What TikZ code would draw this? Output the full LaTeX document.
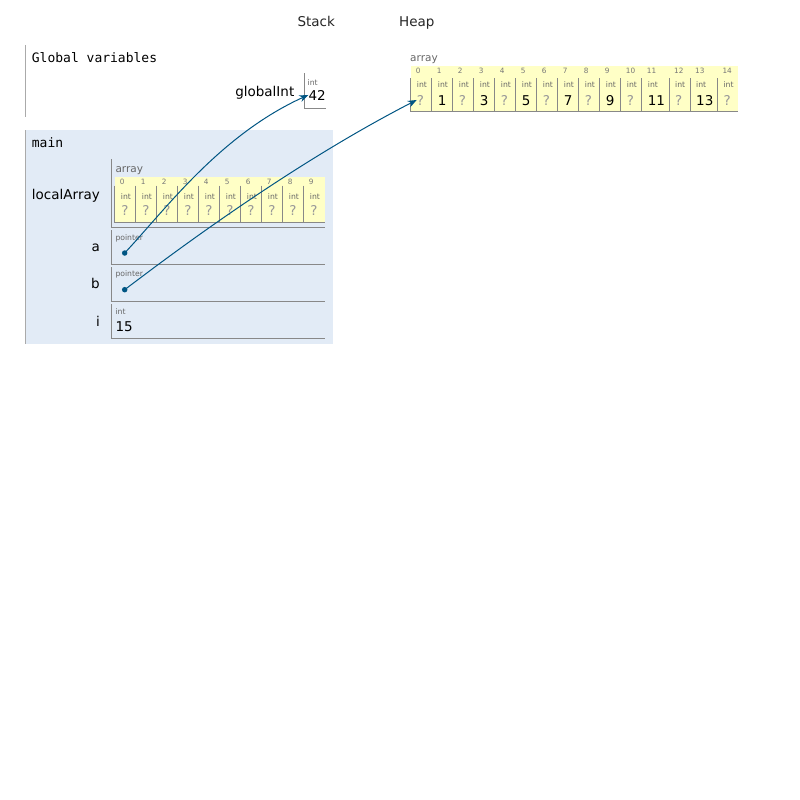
\documentclass[tikz,border=0pt]{standalone}
\usepackage{fontspec}
\setmainfont{DejaVu Sans}
\newfontfamily\codefont{DejaVu Sans Mono}
\usetikzlibrary{arrows.meta}
\definecolor{frameblue}{HTML}{E2EBF6}
\definecolor{heapyellow}{HTML}{FFFFC6}
\definecolor{cellborder}{HTML}{888888}
\definecolor{framegray}{HTML}{AAAAAA}
\definecolor{idxgray}{HTML}{777777}
\definecolor{typegray}{HTML}{666666}
\definecolor{qgray}{HTML}{999999}
\definecolor{ptrblue}{HTML}{005583}
\begin{document}
\begin{tikzpicture}[x=1pt,y=-1pt,
  lbl/.style={font=\fontsize{13.5}{16}\selectfont, inner sep=0pt, anchor=base east},
  hdr/.style={font=\fontsize{13.5}{16}\selectfont, inner sep=0pt, anchor=base west, text=black!85},
  frametitle/.style={font=\codefont\fontsize{13}{16}\selectfont, inner sep=0pt, anchor=base west},
  typelbl/.style={font=\fontsize{7.7}{9}\selectfont, inner sep=0pt, anchor=base west, text=typegray},
  idxlbl/.style={font=\fontsize{7.3}{9}\selectfont, inner sep=0pt, anchor=base west, text=idxgray},
  arrlbl/.style={font=\fontsize{10.5}{12}\selectfont, inner sep=0pt, anchor=base west, text=typegray},
  vallbl/.style={font=\fontsize{13.5}{16}\selectfont, inner sep=0pt, anchor=base west},
  cellline/.style={draw=cellborder, line width=1pt},
  frameline/.style={draw=framegray, line width=1pt},
  ptrdot/.style={circle, fill=ptrblue, inner sep=0pt, minimum size=5.5pt},
  ptrarrow/.style={draw=ptrblue, line width=1pt, -{Stealth[length=9pt,width=7pt]}}
]
\useasboundingbox (0,0) rectangle (800,800);

% column titles
\node[hdr] (stacktitle) at (297.3,26.7) {Stack};
\node[hdr] (heaptitle) at (399,26.7) {Heap};

% global frame
\draw[frameline] (25,45) -- (25,117);
\node[frametitle] (globaltitle) at (31.7,62.7) {Global variables};
\node[lbl] (globalIntlbl) at (294.5,96) {globalInt};
\draw[cellline] (304.3,73) -- (304.3,108) -- (326,108);
\node[typelbl] (gtype) at (307.5,85) {int};
\node[vallbl] (gval) at (308.3,100) {42};

% main frame
\fill[frameblue] (25,130) rectangle (333.3,344);
\draw[frameline] (25,130) -- (25,344);
\node[frametitle] (maintitle) at (31.7,147.7) {main};

% localArray
\node[lbl] (localArraylbl) at (100,199) {localArray};
\draw[cellline] (111.5,159) -- (111.5,227) -- (325,227);
\node[arrlbl] (larrlbl) at (115.3,172.3) {array};
\fill[heapyellow] (114.7,176.7) rectangle (324.7,222.7);
\foreach \i in {0,...,9}{
  \pgfmathsetmacro{\cx}{114.7+21*\i}
  \draw[cellline] (\cx,185.7) -- (\cx,222.7) -- (\cx+21,222.7);
  \node[idxlbl] (li\i) at (\cx+5,184.3) {\i};
  \node[typelbl] (lt\i) at (\cx+6,199.3) {int};
  \node[vallbl, text=qgray] (lv\i) at (\cx+6.5,215) {?};
}

% a
\node[lbl] (albl) at (100,251.7) {a};
\draw[cellline] (111.5,230) -- (111.5,264) -- (325,264);
\node[typelbl] (atype) at (115.3,240.3) {pointer};
\node[ptrdot] (adot) at (124.7,253) {};

% b
\node[lbl] (blbl) at (100,288) {b};
\draw[cellline] (111.5,267) -- (111.5,301) -- (325,301);
\node[typelbl] (btype) at (115.3,276.3) {pointer};
\node[ptrdot] (bdot) at (124.7,289.7) {};

% i
\node[lbl] (ilbl) at (100,326.7) {i};
\draw[cellline] (111.5,304) -- (111.5,338.3) -- (325,338.3);
\node[typelbl] (itype) at (115.3,314) {int};
\node[vallbl] (ival) at (115.3,331.3) {15};

% heap array
\node[arrlbl] (harrlbl) at (410,61.7) {array};
\fill[heapyellow] (410.7,65.7) rectangle (738,111.7);
\foreach \i/\x/\w/\v/\c in {0/410.7/21/?/qgray,1/431.7/21/1/black,2/452.7/21/?/qgray,3/473.7/21/3/black,4/494.7/21/?/qgray,5/515.7/21/5/black,6/536.7/21/?/qgray,7/557.7/21/7/black,8/578.7/21/?/qgray,9/599.7/21/9/black,10/620.7/21/?/qgray,11/641.7/27.3/11/black,12/669/21/?/qgray,13/690/27.3/13/black,14/717.3/20.7/?/qgray}{
  \draw[cellline] (\x,78.3) -- (\x,111.7) -- (\x+\w,111.7);
  \node[idxlbl] (hi\i) at (\x+5,74) {\i};
  \node[typelbl] (ht\i) at (\x+6,87.3) {int};
  \node[vallbl, text=\c] (hv\i) at (\x+6,105) {\v};
}

% pointers
\draw[ptrarrow] (adot.center) .. controls (165,210) and (220,135) .. (gval.west);
\draw[ptrarrow] (bdot.center) .. controls (190,240) and (300,160) .. (hv0.west);
\end{tikzpicture}
\end{document}
